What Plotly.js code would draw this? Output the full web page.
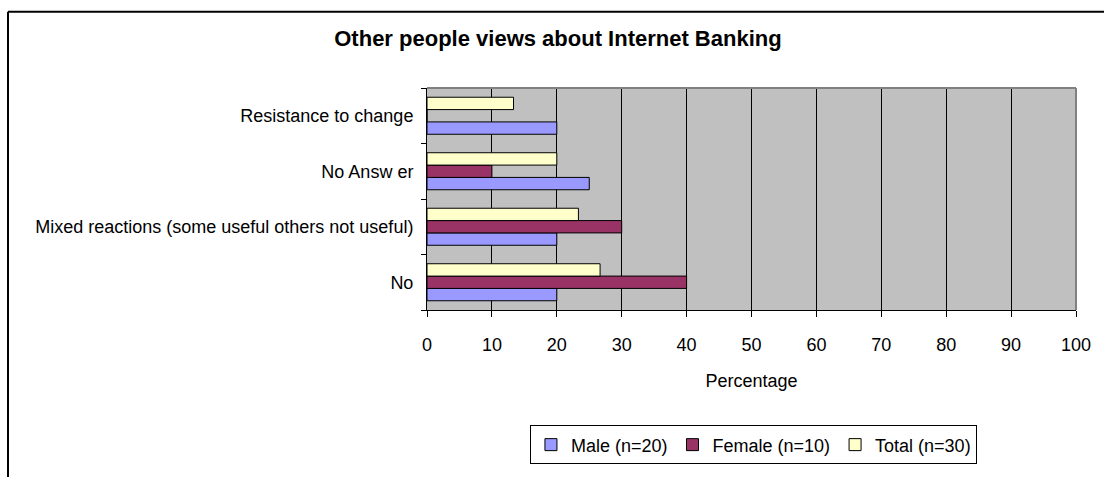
<!DOCTYPE html>
<html>
<head>
<meta charset="utf-8">
<script src="https://cdn.plot.ly/plotly-3.0.1.min.js"></script>
<style>html,body{margin:0;padding:0;background:#fff;}#chart{width:1104px;height:477px;}</style>
</head>
<body>
<div id="chart"></div>
<script>
const categories = ["No", "Mixed reactions (some useful others not useful)", "No Answer", "Resistance to change"];
const categoryLabels = ["No", "Mixed reactions (some useful others not useful)", "No Answ er", "Resistance to change"];
const seriesNames = ["Male (n=20)", "Female (n=10)", "Total (n=30)"];
const maleValues = [20, 20, 25, 20];
const femaleValues = [40, 30, 10, 0];
const totalValues = [26.67, 23.33, 20, 13.33];
const xTickValues = [0, 10, 20, 30, 40, 50, 60, 70, 80, 90, 100];
const colors = ["#9999FF", "#993366", "#FFFFCC"];

const allValues = [maleValues, femaleValues, totalValues];
const traces = allValues.map((vals, i) => ({
  type: "bar",
  orientation: "h",
  name: seriesNames[i],
  y: categories,
  x: vals,
  marker: {color: colors[i], line: {color: "#000", width: 1}},
  hoverinfo: "x+name"
}));

const plotW = 1076 - 427, plotH = 315 - 88;
const layout = {
  width: 1104, height: 477,
  margin: {l: 427, r: 28, t: 88, b: 162},
  paper_bgcolor: "#fff",
  plot_bgcolor: "#C0C0C0",
  font: {family: "Liberation Sans, Arial, sans-serif", color: "#000", size: 18},
  title: {text: "<b>Other people views about Internet Banking</b>", x: 0.5054, xanchor: "center", y: 0.92, yanchor: "middle", font: {size: 22}},
  barmode: "group",
  bargap: 0.333,
  bargroupgap: 0,
  xaxis: {
    range: [0, 100], tickvals: xTickValues, ticktext: xTickValues.map(String),
    showgrid: true, gridcolor: "#000", gridwidth: 1,
    showline: true, linecolor: "#000", linewidth: 1,
    ticks: "outside", ticklen: 6, tickcolor: "#000",
    ticklabelstandoff: 12,
    tickfont: {size: 18}, zeroline: false, fixedrange: true, automargin: false,
    title: {text: "Percentage", font: {size: 18}, standoff: 20}
  },
  yaxis: {
    type: "category", categoryorder: "array", categoryarray: categories,
    tickvals: categories, ticktext: categoryLabels,
    tickson: "boundaries",
    showline: true, linecolor: "#000", linewidth: 1,
    ticks: "outside", ticklen: 5, tickcolor: "#000",
    tickfont: {size: 18}, showgrid: false, fixedrange: true, automargin: false,
    ticklabelstandoff: 9
  },
  showlegend: true,
  legend: {
    orientation: "h", traceorder: "normal",
    x: 0.503, xanchor: "center", y: -0.52, yanchor: "top",
    bordercolor: "#000", borderwidth: 1, bgcolor: "#fff",
    font: {size: 18}, itemwidth: 30
  },
  shapes: [
    {type: "line", xref: "paper", yref: "paper", x0: 0, x1: 1, y0: 1, y1: 1, line: {color: "#808080", width: 2}},
    {type: "line", xref: "paper", yref: "paper", x0: 1, x1: 1, y0: 0, y1: 1, line: {color: "#808080", width: 2}},
    {type: "line", xref: "paper", yref: "paper", x0: (8 - 427) / plotW, x1: 1.1, y0: (315 - 10) / plotH, y1: (315 - 10) / plotH, line: {color: "#000", width: 2}},
    {type: "line", xref: "paper", yref: "paper", x0: (8 - 427) / plotW, x1: (8 - 427) / plotW, y0: (315 - 10) / plotH, y1: -0.8, line: {color: "#000", width: 2}}
  ]
};

Plotly.newPlot("chart", traces, layout, {displayModeBar: false, staticPlot: true});
</script>
</body>
</html>
